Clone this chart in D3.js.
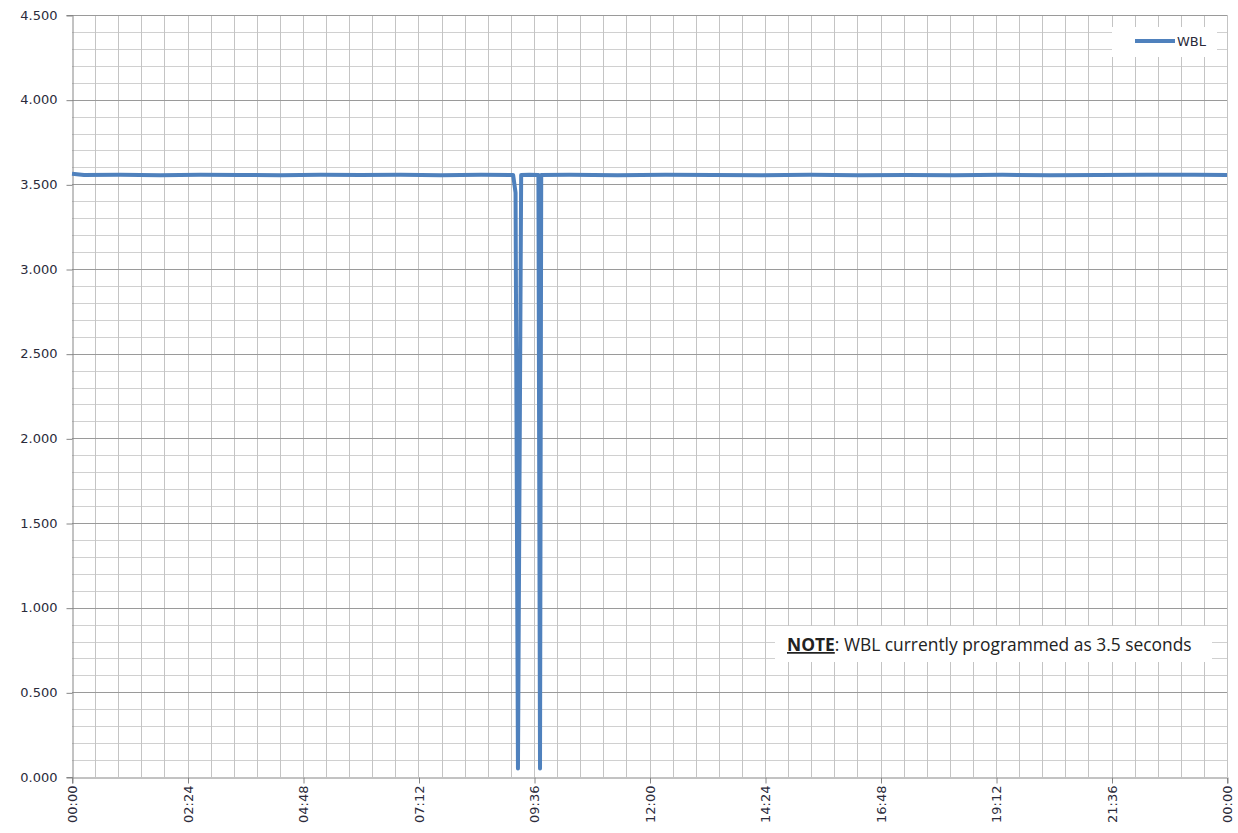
<!DOCTYPE html>
<html lang="en">
<head>
    <meta charset="UTF-8">
    <title>WBL</title>
    <script src="https://cdn.jsdelivr.net/npm/d3@7"></script>
    <style>
        body { margin: 0; background: #fff; }
        .tick text { font-family: "DejaVu Sans", sans-serif; font-size: 13px; fill: #2b2b3b; }
    </style>
</head>
<body>
    <svg id="main" width="1238" height="833"></svg>
    <script>
        // minutes since midnight and WBL reading (seconds)
        const times = [0, 15, 60, 110, 160, 210, 260, 310, 360, 410, 460, 510, 550, 553, 556, 560,
                       570, 581.5, 583.5, 585, 620, 680, 740, 800, 860, 920, 980, 1040, 1100,
                       1160, 1220, 1280, 1340, 1400, 1440];
        const wbl   = [3.562, 3.555, 3.556, 3.554, 3.557, 3.555, 3.554, 3.556, 3.555, 3.557, 3.554, 3.556,
                       3.555, 3.45, 0.05, 3.555, 3.556, 3.555, 0.05, 3.555, 3.556, 3.554, 3.557, 3.555,
                       3.553, 3.556, 3.554, 3.555, 3.553, 3.556, 3.554, 3.555, 3.556, 3.557, 3.555];
        const seriesName = 'WBL';
        const yMajor = [0, 0.5, 1, 1.5, 2, 2.5, 3, 3.5, 4, 4.5];
        const xMajor = [0, 144, 288, 432, 576, 720, 864, 1008, 1152, 1296, 1440];
        const noteBold = 'NOTE';
        const noteRest = ': WBL currently programmed as 3.5 seconds';

        let svg = d3.select('svg#main');
        let m = {left: 72, right: 11, top: 15, bottom: 56};
        let W = 1238, H = 833;

        let x = d3.scaleLinear().domain([0, 1440]).range([m.left, W - m.right]);
        let y = d3.scaleLinear().domain([0, 4.5]).range([H - m.bottom, m.top]);

        // minor grid
        let g = svg.append('g');
        g.selectAll('line.hmin')
            .data(d3.range(1, 45).map(d => d / 10).filter(d => Math.round(d * 10) % 5 != 0))
            .enter().append('line')
            .attr('x1', m.left).attr('x2', W - m.right)
            .attr('y1', d => Math.round(y(d)) + 0.5).attr('y2', d => Math.round(y(d)) + 0.5)
            .style('stroke', '#d0d0d0');
        g.selectAll('line.v')
            .data(d3.range(1, 51).map(d => d * 28.8))
            .enter().append('line')
            .attr('y1', m.top).attr('y2', H - m.bottom)
            .attr('x1', d => Math.round(x(d)) + 0.5).attr('x2', d => Math.round(x(d)) + 0.5)
            .style('stroke', '#c4c4c4');
        g.selectAll('line.hmaj')
            .data(yMajor.slice(1))
            .enter().append('line')
            .attr('x1', m.left).attr('x2', W - m.right)
            .attr('y1', d => Math.round(y(d)) + 0.5).attr('y2', d => Math.round(y(d)) + 0.5)
            .style('stroke', '#9a9a9a');

        // axes
        let fmt = d => {
            let mm = Math.round(d) % 1440;
            return d3.format('02d')(Math.floor(mm / 60)) + ':' + d3.format('02d')(mm % 60);
        };
        let yAxis = svg.append('g')
            .attr('transform', `translate(${m.left + 0.5},0)`)
            .call(d3.axisLeft(y).tickValues(yMajor).tickFormat(d3.format('.3f')).tickSize(6).tickPadding(9));
        let xAxis = svg.append('g')
            .attr('transform', `translate(0,${H - m.bottom + 0.5})`)
            .call(d3.axisBottom(x).tickValues(xMajor).tickFormat(fmt).tickSize(6));
        xAxis.selectAll('.tick text')
            .attr('transform', 'rotate(-90)')
            .attr('text-anchor', 'end')
            .attr('x', -8).attr('y', 0).attr('dy', '0.35em');
        [yAxis, xAxis].forEach(a => {
            a.select('.domain').style('stroke', '#868686');
            a.selectAll('.tick line').style('stroke', '#868686');
        });
        xAxis.selectAll('.tick line').attr('x1', 0.5).attr('x2', 0.5);
        yAxis.selectAll('.tick line').attr('y1', 0.5).attr('y2', 0.5);

        // series
        let data = times.map((t, i) => [t, wbl[i]]);
        let line = d3.line().x(d => x(d[0])).y(d => y(d[1]));
        svg.append('path')
            .datum(data)
            .attr('d', line)
            .style('fill', 'none')
            .style('stroke', '#4f81bd')
            .style('stroke-width', 4)
            .style('stroke-linejoin', 'round');

        // legend
        let lg = svg.append('g');
        lg.append('rect').attr('x', 1112).attr('y', 27).attr('width', 105).attr('height', 30).style('fill', '#fff');
        lg.append('line').attr('x1', 1135).attr('x2', 1175).attr('y1', 41).attr('y2', 41)
            .style('stroke', '#4f81bd').style('stroke-width', 4);
        lg.append('text').attr('x', 1177).attr('y', 46).text(seriesName)
            .style('font-family', '"DejaVu Sans", sans-serif').style('font-size', '13px').style('fill', '#2b2b3b');

        // note
        let ng = svg.append('g');
        ng.append('rect').attr('x', 775).attr('y', 626).attr('width', 437).attr('height', 36).style('fill', '#fff');
        let nt = ng.append('text').attr('x', 787).attr('y', 651)
            .style('font-family', '"Open Sans", sans-serif').style('font-size', '17.4px').style('fill', '#222');
        nt.append('tspan').text(noteBold).style('font-weight', 'bold').style('text-decoration', 'underline');
        nt.append('tspan').text(noteRest);
    </script>
</body>
</html>
